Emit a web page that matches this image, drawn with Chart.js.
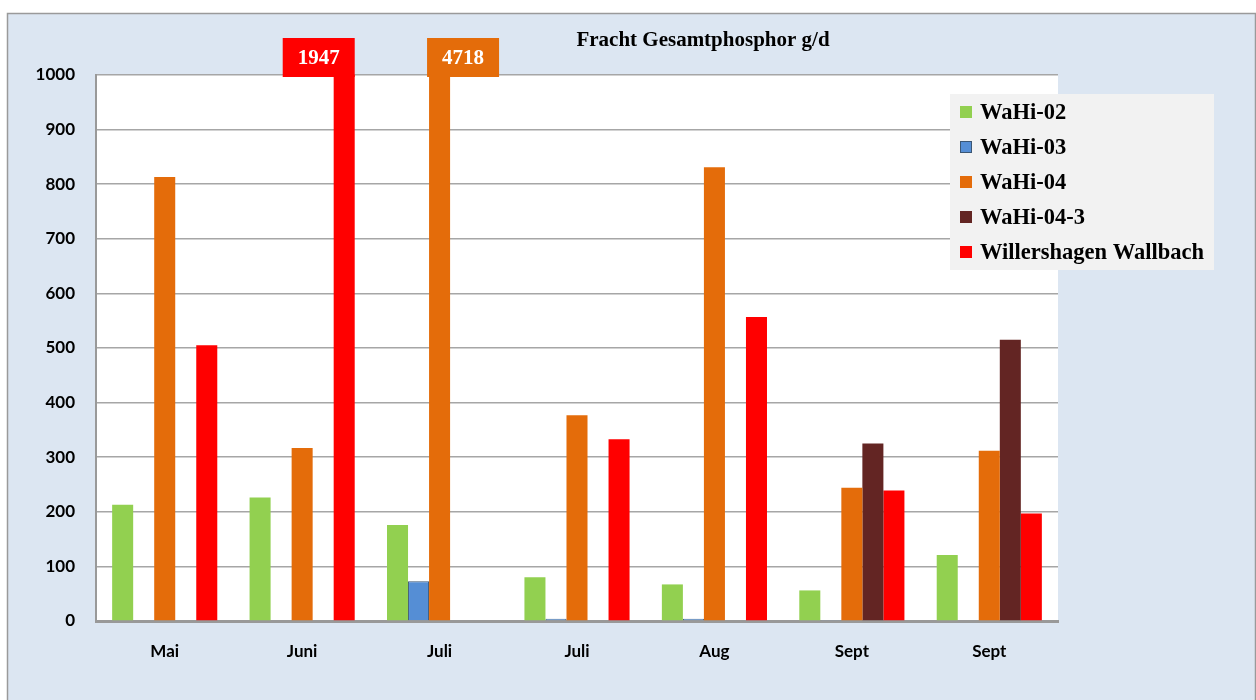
<!DOCTYPE html>
<html lang="de">
<head>
  <meta charset="UTF-8">
  <title>Fracht Gesamtphosphor g/d</title>
  <script src="https://cdn.jsdelivr.net/npm/chart.js"></script>
  <style>
    body { margin: 0; padding: 0; background: #fff; }
    canvas { display: block; }
  </style>
</head>
<body>
  <canvas id="chart" width="1256" height="700"></canvas>
  <script>
    const months = ['Mai', 'Juni', 'Juli', 'Juli', 'Aug', 'Sept', 'Sept'];
    const wahi02 = [213, 226, 176, 80, 67, 56, 121];
    const wahi03 = [null, null, 73, 4, 4, 2, null];
    const wahi04 = [813, 317, 4718, 377, 831, 244, 312];
    const wahi043 = [null, null, null, null, null, 325, 515];
    const wallbach = [505, 1947, null, 333, 557, 239, 197];
    const yTicks = [0, 100, 200, 300, 400, 500, 600, 700, 800, 900, 1000];

    const serif = '"Liberation Serif", "DejaVu Serif", serif';
    const sans = 'Lato, "Open Sans", sans-serif';

    // background frame + white plot area
    const frame = {
      id: 'frame',
      beforeDraw(chart) {
        const c = chart.ctx, a = chart.chartArea;
        c.save();
        c.fillStyle = '#ffffff';
        c.fillRect(0, 0, chart.width, chart.height);
        c.fillStyle = '#dce6f2';
        c.fillRect(7, 13, chart.width - 7, chart.height - 13);
        c.strokeStyle = '#9a9a9a';
        c.lineWidth = 1.5;
        c.strokeRect(7.5, 13.5, chart.width - 8, chart.height);
        c.fillStyle = '#ffffff';
        c.fillRect(a.left, a.top, a.right - a.left, a.bottom - a.top);
        c.restore();
      }
    };

    // value boxes for bars running off the top
    const overflowAlign = { '4-1': 'right', '2-2': 'left' };
    const overflow = {
      id: 'overflow',
      afterDatasetsDraw(chart) {
        const c = chart.ctx, a = chart.chartArea;
        const max = chart.scales.y.max;
        chart.data.datasets.forEach((ds, di) => {
          chart.getDatasetMeta(di).data.forEach((bar, i) => {
            const v = ds.data[i];
            if (v == null || v <= max) return;
            const w = 72, h = 39;
            const align = overflowAlign[di + '-' + i] || 'left';
            const left = align === 'right' ? bar.x + bar.width / 2 - w : bar.x - bar.width / 2 - 2;
            const top = a.top - 37;
            c.save();
            c.fillStyle = ds.backgroundColor;
            c.fillRect(left, top, w, h);
            c.fillStyle = '#ffffff';
            c.font = 'bold 21px ' + serif;
            c.textAlign = 'center';
            c.textBaseline = 'middle';
            c.fillText(String(v), left + w / 2, top + h / 2 + 1);
            c.restore();
          });
        });
      }
    };

    // title and legend box
    const extras = {
      id: 'extras',
      afterDraw(chart) {
        const c = chart.ctx;
        c.save();
        c.fillStyle = '#000';
        c.font = 'bold 21px ' + serif;
        c.textAlign = 'center';
        c.textBaseline = 'middle';
        c.fillText('Fracht Gesamtphosphor g/d', 703, 41);

        c.fillStyle = '#f2f2f2';
        c.fillRect(950, 94, 264, 176);
        c.font = 'bold 22.5px ' + serif;
        c.textAlign = 'left';
        chart.data.datasets.forEach((ds, i) => {
          const y = 112 + i * 35;
          c.fillStyle = ds.backgroundColor;
          c.fillRect(960, y - 6, 12, 12);
          if (ds.borderWidth) {
            c.strokeStyle = ds.borderColor;
            c.lineWidth = 1;
            c.strokeRect(960.5, y - 5.5, 11, 11);
          }
          c.fillStyle = '#000';
          c.fillText(ds.label, 980, y + 1);
        });
        c.restore();
      }
    };

    new Chart(document.getElementById('chart'), {
      type: 'bar',
      data: {
        labels: months,
        datasets: [
          { label: 'WaHi-02', data: wahi02, backgroundColor: '#92d050', borderWidth: 0 },
          { label: 'WaHi-03', data: wahi03, backgroundColor: '#558ed5', borderColor: '#3b5674', borderWidth: 1 },
          { label: 'WaHi-04', data: wahi04, backgroundColor: '#e46c0a', borderWidth: 0 },
          { label: 'WaHi-04-3', data: wahi043, backgroundColor: '#632523', borderWidth: 0 },
          { label: 'Willershagen Wallbach', data: wallbach, backgroundColor: '#ff0000', borderWidth: 0 }
        ]
      },
      options: {
        responsive: false,
        animation: false,
        layout: { padding: { top: 75, right: 198, bottom: 0, left: 0 } },
        datasets: { bar: { categoryPercentage: 0.765, barPercentage: 1.0, clip: 0 } },
        plugins: {
          legend: { display: false },
          title: { display: false },
          tooltip: { enabled: false }
        },
        scales: {
          x: {
            grid: { display: false },
            border: { color: '#999', width: 3 },
            ticks: { color: '#000', font: { family: sans, size: 17, weight: 'bold' }, padding: 12 },
            afterFit(s) { s.height = 79; }
          },
          y: {
            min: 0,
            max: 1000,
            afterBuildTicks(s) { s.ticks = yTicks.map(v => ({ value: v })); },
            grid: { color: '#a6a6a6', lineWidth: 1.5, drawTicks: false },
            border: { color: '#999', width: 2 },
            ticks: {
              color: '#000',
              font: { family: sans, size: 17, weight: 'bold' },
              padding: 21,
              callback: v => String(v)
            },
            afterFit(s) { s.width = 96; }
          }
        }
      },
      plugins: [frame, overflow, extras]
    });
  </script>
</body>
</html>
